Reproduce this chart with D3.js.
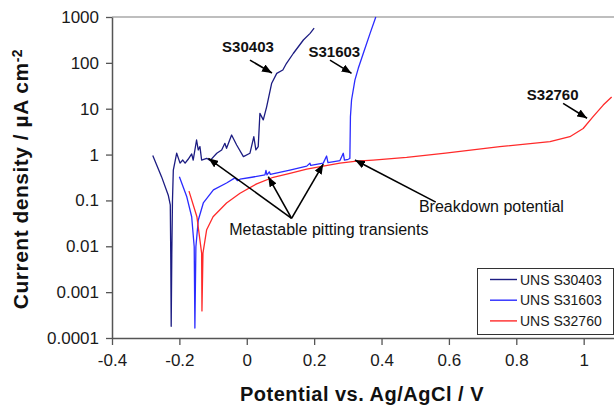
<!DOCTYPE html>
<html>
<head>
<meta charset="utf-8">
<script src="https://cdn.jsdelivr.net/npm/d3@7/dist/d3.min.js"></script>
<style>
  html, body { margin: 0; padding: 0; background: #fff; }
  svg { display: block; font-family: "Liberation Sans", Arial, Helvetica, sans-serif; }
</style>
</head>
<body>
<svg id="chart" width="614" height="405"></svg>
<script>
// Axis ticks
const xTicks = [-0.4, -0.2, 0, 0.2, 0.4, 0.6, 0.8, 1];
const xTickLabels = ["-0.4", "-0.2", "0", "0.2", "0.4", "0.6", "0.8", "1"];
const yTicks = [1000, 100, 10, 1, 0.1, 0.01, 0.001, 0.0001];
const yTickLabels = ["1000", "100", "10", "1", "0.1", "0.01", "0.001", "0.0001"];

// Series: [potential vs Ag/AgCl (V), current density (µA cm-2)]
const seriesNames = ["UNS S30403", "UNS S31603", "UNS S32760"];
const seriesColors = ["#1c1c82", "#2b2bff", "#ff2a2a"];

const s30403 = [
  [-0.279, 0.95], [-0.253, 0.33], [-0.233, 0.13], [-0.227, 0.08], [-0.2255, 0.005],
  [-0.2243, 0.00018], [-0.2225, 0.0065], [-0.2205, 0.1], [-0.218, 0.46], [-0.208, 1.07],
  [-0.198, 0.65], [-0.190, 0.76], [-0.183, 0.65], [-0.174, 0.79], [-0.1635, 1.03],
  [-0.159, 0.76], [-0.149, 2.08], [-0.144, 1.26], [-0.139, 1.49], [-0.134, 0.76],
  [-0.119, 0.83], [-0.109, 0.74], [-0.089, 1.07], [-0.0745, 1.26], [-0.065, 1.76],
  [-0.060, 1.37], [-0.045, 2.67], [-0.030, 1.62], [-0.010, 0.90], [0.0095, 1.07],
  [0.021, 2.45], [0.027, 1.26], [0.034, 1.49], [0.039, 7.9], [0.049, 5.7],
  [0.059, 11], [0.074, 36], [0.089, 59], [0.107, 70], [0.118, 98],
  [0.138, 160], [0.168, 315], [0.188, 440], [0.200, 570]
];

const s31603 = [
  [-0.200, 0.33], [-0.178, 0.12], [-0.1635, 0.044], [-0.156, 0.0098], [-0.154, 0.000165],
  [-0.151, 0.0098], [-0.144, 0.037], [-0.129, 0.088], [-0.099, 0.17], [-0.060, 0.24],
  [-0.035, 0.31], [-0.028, 0.27], [-0.020, 0.29], [0.015, 0.32], [0.054, 0.36],
  [0.057, 0.45], [0.060, 0.36], [0.0668, 0.42], [0.070, 0.37], [0.128, 0.46],
  [0.178, 0.56], [0.1875, 0.65], [0.190, 0.58], [0.227, 0.65], [0.237, 0.93],
  [0.241, 0.67], [0.2766, 0.74], [0.2864, 1.07], [0.290, 0.76], [0.301, 0.79],
  [0.306, 0.82], [0.3077, 6.7], [0.311, 15.5], [0.321, 42], [0.331, 76],
  [0.346, 162], [0.366, 440], [0.383, 1000]
];

const s32760 = [
  [-0.1715, 0.16], [-0.148, 0.044], [-0.134, 0.0071], [-0.133, 0.00039], [-0.130, 0.0071],
  [-0.119, 0.023], [-0.100, 0.044], [-0.060, 0.088], [-0.020, 0.143], [0.0294, 0.23],
  [0.0786, 0.32], [0.128, 0.39], [0.178, 0.48], [0.227, 0.56], [0.2766, 0.65],
  [0.326, 0.72], [0.375, 0.76], [0.4745, 0.87], [0.59, 1.07], [0.751, 1.49],
  [0.900, 1.91], [0.959, 2.45], [0.9985, 3.7], [1.028, 6.7], [1.058, 12],
  [1.083, 18]
];

// Annotations, positioned in data space
const curveLabels = [
  { text: "S30403", at: [0.0036, 170] },
  { text: "S31603", at: [0.260, 136] },
  { text: "S32760", at: [0.908, 15.5] }
];
const noteLabels = [
  { text: "Breakdown potential", at: [0.511, 0.056] },
  { text: "Metastable pitting transients", at: [-0.052, 0.0176] }
];
const arrows = [
  { from: [0.0095, 115], to: [0.0748, 60] },
  { from: [0.247, 115], to: [0.311, 59] },
  { from: [0.939, 13.1], to: [1.010, 6.2] },
  { from: [0.561, 0.092], to: [0.321, 0.76] },
  { from: [0.133, 0.0408], to: [-0.114, 0.83] },
  { from: [0.133, 0.0408], to: [0.0638, 0.33] },
  { from: [0.133, 0.0408], to: [0.227, 0.62] }
];

const svg = d3.select("#chart");
const plot = { left: 112, right: 614, top: 17, bottom: 338 };

const x = d3.scaleLinear().domain([-0.4, 1.09]).range([plot.left, plot.right]);
const y = d3.scaleLog().domain([0.0001, 1000]).range([plot.bottom, plot.top]);

// Arrowhead
svg.append("defs").append("marker")
  .attr("id", "head")
  .attr("viewBox", "0 0 10 8")
  .attr("refX", 10).attr("refY", 4)
  .attr("markerWidth", 10).attr("markerHeight", 8)
  .attr("markerUnits", "userSpaceOnUse")
  .attr("orient", "auto")
  .append("path").attr("d", "M0,0 L10,4 L0,8 Z").attr("fill", "#000");

// Top frame line
svg.append("line")
  .attr("x1", x(-0.4)).attr("x2", x(1.09))
  .attr("y1", y(1000)).attr("y2", y(1000))
  .attr("stroke", "#a8a8a8").attr("stroke-width", 1.5);

// Y axis
const yAxis = svg.append("g")
  .attr("transform", `translate(${plot.left},0)`)
  .call(d3.axisLeft(y).tickValues(yTicks)
    .tickFormat((d, i) => yTickLabels[i])
    .tickSize(6).tickSizeOuter(0).tickPadding(7));

// X axis
const xAxis = svg.append("g")
  .attr("transform", `translate(0,${plot.bottom})`)
  .call(d3.axisBottom(x).tickValues(xTicks)
    .tickFormat((d, i) => xTickLabels[i])
    .tickSize(7).tickSizeOuter(0).tickPadding(9));

[yAxis, xAxis].forEach(g => {
  g.select(".domain").attr("stroke", "#555").attr("stroke-width", 1.5);
  g.selectAll(".tick line").attr("stroke", "#555").attr("stroke-width", 1.3);
  g.selectAll(".tick text")
    .attr("fill", "#1a1a1a")
    .style("font-size", "17px")
    .style("font-family", "'Liberation Sans', Arial, sans-serif");
});

// Curves
const line = d3.line().x(d => x(d[0])).y(d => y(d[1]));
[s30403, s31603, s32760].forEach((data, i) => {
  svg.append("path")
    .datum(data)
    .attr("d", line)
    .attr("fill", "none")
    .attr("stroke", seriesColors[i])
    .attr("stroke-width", 1.3)
    .attr("stroke-linejoin", "round");
});

// Arrows
svg.append("g").selectAll("line").data(arrows).join("line")
  .attr("x1", d => x(d.from[0])).attr("y1", d => y(d.from[1]))
  .attr("x2", d => x(d.to[0])).attr("y2", d => y(d.to[1]))
  .attr("stroke", "#000").attr("stroke-width", 1.6)
  .attr("marker-end", "url(#head)");

// Curve labels
svg.append("g").selectAll("text").data(curveLabels).join("text")
  .attr("x", d => x(d.at[0])).attr("y", d => y(d.at[1]))
  .attr("text-anchor", "middle")
  .style("font-size", "15px").style("font-weight", "bold")
  .attr("fill", "#111")
  .text(d => d.text);

// Notes
svg.append("g").selectAll("text").data(noteLabels).join("text")
  .attr("x", d => x(d.at[0])).attr("y", d => y(d.at[1]))
  .style("font-size", "16px")
  .attr("fill", "#111")
  .text(d => d.text);

// Axis titles
svg.append("text")
  .attr("x", 362).attr("y", 401)
  .attr("text-anchor", "middle")
  .style("font-size", "20px").style("font-weight", "bold")
  .style("letter-spacing", "0.5px")
  .attr("fill", "#111")
  .text("Potential vs. Ag/AgCl / V");

const yTitle = svg.append("text")
  .attr("transform", "translate(28,179) rotate(-90)")
  .attr("text-anchor", "middle")
  .style("font-size", "21px").style("font-weight", "bold")
  .style("letter-spacing", "0.5px")
  .attr("fill", "#111");
yTitle.append("tspan").text("Current density / µA cm");
yTitle.append("tspan").attr("dy", "-0.45em").style("font-size", "14px").text("-2");

// Legend
const legend = svg.append("g").attr("transform", "translate(477,268)");
legend.append("rect")
  .attr("x", 0.5).attr("y", 0.5).attr("width", 136).attr("height", 66)
  .attr("fill", "#fff").attr("stroke", "#333").attr("stroke-width", 1);
seriesNames.forEach((name, i) => {
  const row = legend.append("g").attr("transform", `translate(0,${11.5 + i * 20.7})`);
  row.append("line").attr("x1", 13).attr("x2", 40)
    .attr("stroke", seriesColors[i]).attr("stroke-width", 1.4);
  row.append("text").attr("x", 43).attr("y", 5)
    .style("font-size", "14px").attr("fill", "#1a1a1a").text(name);
});
</script>
</body>
</html>
